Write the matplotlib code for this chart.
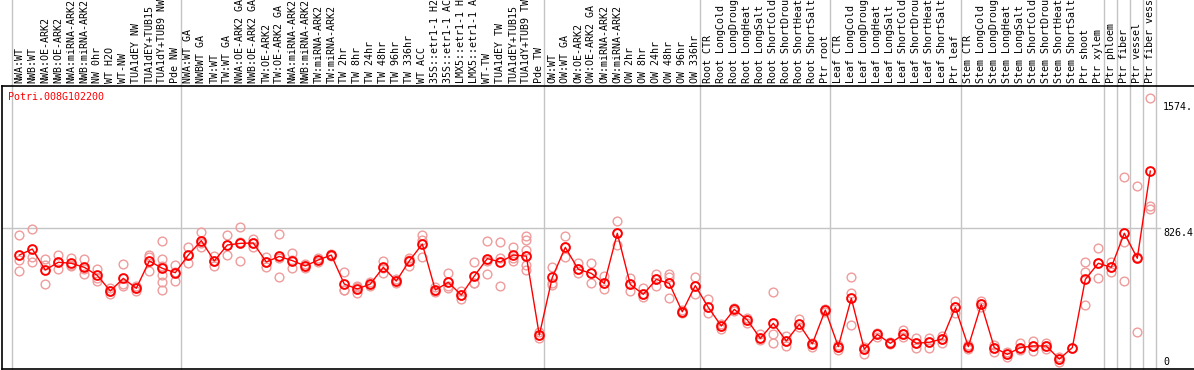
import matplotlib
matplotlib.use("Agg")
import matplotlib.pyplot as plt
from matplotlib.transforms import blended_transform_factory

labels = [
    "NWA:WT", "NWB:WT", "NWA:OE-ARK2", "NWB:OE-ARK2", "NWA:miRNA-ARK2", "NWB:miRNA-ARK2",
    "NW 0hr", "WT H2O", "WT-NW", "TUA1dEY NW", "TUA1dEY+TUB15", "TUA1dY+TUB9 NW", "Pde NW",
    "NWA:WT GA", "NWBWT GA", "TW:WT", "TW:WT GA", "NWA:OE-ARK2 GA", "NWB:OE-ARK2 GA",
    "TW:OE-ARK2", "TW:OE-ARK2 GA", "NWA:miRNA-ARK2", "NWB:miRNA-ARK2", "TW:miRNA-ARK2",
    "TW:miRNA-ARK2", "TW 2hr", "TW 8hr", "TW 24hr", "TW 48hr", "TW 96hr", "TW 336hr",
    "WT ACC", "35S::etr1-1 H2", "35S::etr1-1 AC", "LMX5::etr1-1 H", "LMX5::etr1-1 A",
    "WT-TW", "TUA1dEY TW", "TUA1dEY+TUB15", "TUA1dY+TUB9 TW", "Pde TW",
    "OW:WT", "OW:WT GA", "OW:OE-ARK2", "OW:OE-ARK2 GA", "OW:miRNA-ARK2", "OW:miRNA-ARK2",
    "OW 2hr", "OW 8hr", "OW 24hr", "OW 48hr", "OW 96hr", "OW 336hr",
    "Root CTR", "Root LongCold", "Root LongDroug", "Root LongHeat", "Root LongSalt",
    "Root ShortCold", "Root ShortDrou", "Root ShortHeat", "Root ShortSalt", "Ptr root",
    "Leaf CTR", "Leaf LongCold", "Leaf LongDroug", "Leaf LongHeat", "Leaf LongSalt",
    "Leaf ShortCold", "Leaf ShortDrou", "Leaf ShortHeat", "Leaf ShortSalt", "Ptr leaf",
    "Stem CTR", "Stem LongCold", "Stem LongDroug", "Stem LongHeat", "Stem LongSalt",
    "Stem ShortCold", "Stem ShortDrou", "Stem ShortHeat", "Stem ShortSalt", "Ptr shoot",
    "Ptr xylem", "Ptr phloem", "Ptr fiber", "Ptr vessel", "Ptr fiber vess",
]

means = [
    665, 701, 576, 622, 616, 592, 544, 451, 526, 467, 630, 586, 560,
    665, 751, 630, 725, 735, 737, 624, 657, 632, 600, 636, 665, 492, 463, 492,
    592, 510, 630, 731, 457, 502, 427, 540, 644, 624, 665, 659, 188,
    532, 711, 580, 556, 496, 795, 490, 431, 520, 496, 327, 483,
    353, 242, 341, 278, 168, 258, 153, 252, 135, 337,
    119, 407, 103, 192, 139, 192, 139, 145, 165, 353,
    119, 371, 113, 73, 113, 123, 123, 45, 113, 520,
    616, 592, 795, 646, 1166,
]

replicates = [
    [785, 636, 570], [820, 651, 626], [640, 606, 492], [665, 622, 580],
    [646, 606, 600], [644, 580, 552], [582, 526, 512], [467, 451, 433],
    [610, 490, 481], [481, 467, 453], [665, 655, 570], [749, 642, 600, 546, 502, 457],
    [606, 564, 510],
    [715, 665, 616], [800, 740, 715], [661, 628, 602], [785, 725, 665],
    [830, 745, 630], [761, 737, 715], [651, 624, 596], [791, 648, 532],
    [675, 634, 586], [610, 600, 590], [646, 636, 626], [670, 665, 660],
    [562, 457, 457], [479, 473, 437], [506, 492, 480], [630, 586, 560],
    [520, 510, 496], [650, 638, 602], [785, 755, 651], [476, 452, 443],
    [556, 483, 467], [453, 427, 401], [622, 500, 496], [751, 630, 552],
    [741, 646, 481], [715, 650, 630], [779, 755, 695, 660, 606, 576], [208, 188, 168],
    [592, 500, 486], [779, 711, 655], [616, 580, 556], [616, 556, 496],
    [540, 496, 461], [868, 795, 725], [526, 490, 451], [467, 431, 413],
    [552, 520, 481], [552, 536, 407], [337, 327, 321], [532, 483, 431],
    [401, 353, 318], [254, 242, 224], [347, 341, 334], [288, 278, 262],
    [192, 168, 158], [443, 192, 143], [184, 153, 125], [284, 252, 238],
    [143, 135, 119], [341, 337, 327],
    [129, 119, 99], [532, 441, 248], [119, 103, 75], [200, 192, 178],
    [145, 139, 133], [218, 192, 175], [169, 139, 113], [173, 145, 113],
    [185, 165, 139], [391, 353, 322],
    [129, 119, 103], [391, 371, 357], [129, 113, 89], [89, 73, 59],
    [139, 113, 99], [155, 123, 95], [139, 123, 103], [59, 45, 29],
    [113], [622, 562, 367],
    [705, 616, 526], [622, 592, 562], [1129, 745, 512], [1079, 655, 204],
    [1600, 958, 942],
]

gene_name = "Potri.008G102200"
axis_values = [1574, 826.4, 0]
axis_texts = ["1574.", "826.4", "0"]
group_ends = [12, 40, 52, 62, 72, 83, 84, 85, 86, 87]

W, H = 1194, 370
fig = plt.figure(figsize=(W / 100, H / 100), dpi=100)
ax_left, ax_top, ax_bottom = 2, 86, 369
ax = fig.add_axes([ax_left / W, 1 - ax_bottom / H, 1 - ax_left / W, (ax_bottom - ax_top) / H])

x0_px, dx_px = 19.3, 13.0
ax.set_xlim((ax_left - x0_px) / dx_px, (W - x0_px) / dx_px)
scale = 0.1677
y0_px = 366.6
ax.set_ylim((y0_px - ax_bottom) / scale, (y0_px - ax_top) / scale)

mono = "DejaVu Sans Mono"
ax_h_px = ax_bottom - ax_top
top_ext = 1 + ax_top / ax_h_px

# vertical separators
for g in [-1] + group_ends:
    ax.axvline(g + 0.4, ymin=0, ymax=top_ext, color="#c4c4c4", lw=1, clip_on=False, zorder=0)

# horizontal grid at 826.4
ax.plot([(ax_left - x0_px) / dx_px, (1160 - x0_px) / dx_px], [826.4, 826.4],
        color="#c4c4c4", lw=1, zorder=0)

xs = list(range(len(means)))
for i, reps in enumerate(replicates):
    ax.plot([i] * len(reps), reps, linestyle="none", marker="o", markersize=6.3,
            markerfacecolor="none", markeredgecolor="#ef9b9b", markeredgewidth=1.0, zorder=2)
ax.plot(xs, means, color="#ff0000", lw=1.0, zorder=3)
ax.plot(xs, means, linestyle="none", marker="o", markersize=6.3, markerfacecolor="none",
        markeredgecolor="#ff0000", markeredgewidth=1.4, zorder=4)

# top labels
trans = blended_transform_factory(ax.transData, ax.transAxes)
for i, lab in enumerate(labels):
    ax.text(i, 1 + 3 / ax_h_px, lab, rotation=90, ha="center", va="bottom",
            fontsize=7.2, family=mono, transform=trans, clip_on=False)

fig.text(8 / W, 1 - 97 / H, gene_name, color="#ff0000", fontsize=7.2, family=mono,
         ha="left", va="center")
label_px = [107, 232.7, 361.7]
for t, py in zip(axis_texts, label_px):
    fig.text(1163 / W, 1 - py / H, t, fontsize=7.2, family=mono, ha="left", va="center")

ax.set_xticks([])
ax.set_yticks([])
for s in ["left", "top", "bottom"]:
    ax.spines[s].set_color("black")
    ax.spines[s].set_linewidth(1.2)
ax.spines["right"].set_visible(False)

fig.savefig("out.png", dpi=100)
